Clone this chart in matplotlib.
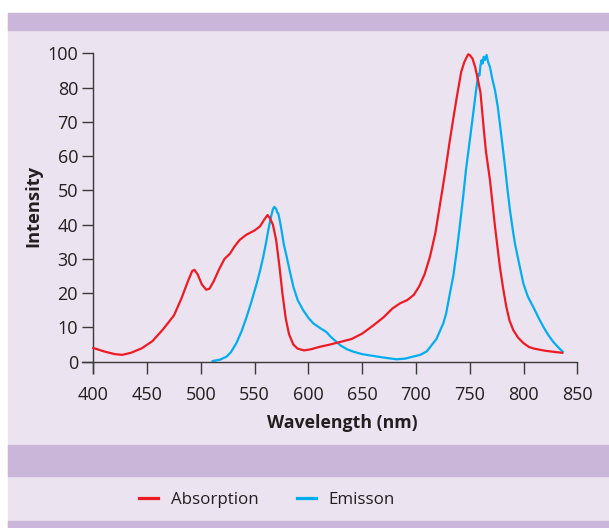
import matplotlib
matplotlib.use("Agg")
import matplotlib.pyplot as plt
from matplotlib.patches import Rectangle
from matplotlib.lines import Line2D

plt.rcParams['font.family'] = ['Open Sans', 'DejaVu Sans']

# %% Data (axis units; top tick "100" sits at 90)
abs_wl = [400, 410, 420, 427, 435, 445, 455, 465, 475, 482, 488, 492, 494, 497,
          501, 505, 508, 512, 517, 522, 527, 531, 536, 542, 550, 555, 559, 562,
          564, 567, 570, 573, 576, 579, 582, 586, 590, 596, 602, 610, 620, 630,
          640, 650, 660, 670, 678, 685, 692, 698, 703, 708, 713, 718, 722, 727,
          731.5, 735, 738, 742, 745, 748.5, 750, 752.5, 755, 757.5, 760, 763,
          765, 768.8, 773.5, 778, 781, 784, 787, 790.5, 795, 800, 805, 810, 820,
          830, 836]
abs_val = [4.0, 3.0, 2.2, 2.0, 2.6, 3.9, 6.0, 9.5, 13.5, 18.5, 23.5, 26.5, 26.8,
           25.5, 22.5, 21.0, 21.3, 23.5, 27.0, 30.0, 31.5, 33.5, 35.5, 37.0,
           38.3, 39.5, 41.5, 42.8, 42.0, 40.0, 35.5, 28.0, 19.5, 12.5, 8.0, 5.0,
           3.8, 3.3, 3.6, 4.3, 5.0, 5.8, 6.6, 8.2, 10.5, 13.0, 15.5, 17.0, 18.0,
           19.5, 22.0, 25.5, 30.6, 37.5, 45.2, 55.0, 64.6, 71.5, 77.3, 84.5,
           87.5, 89.7, 89.5, 88.5, 86.0, 82.5, 78.5, 68.0, 61.5, 53.0, 39.4,
           27.7, 21.5, 16.0, 12.0, 9.2, 7.0, 5.4, 4.3, 3.8, 3.2, 2.8, 2.6]

em_wl = [511, 518, 524, 528, 533, 538, 542.6, 547, 552, 555, 558, 560.5, 562.7,
         565, 567, 568.3, 570, 571, 572, 573.5, 575, 577, 579.8, 583, 586, 590,
         595, 600, 604.5, 610, 614, 617, 620, 626, 630, 636, 642, 650, 660, 670,
         682, 690, 697.5, 704, 710, 716, 719, 725.4, 728, 731.6, 734.7, 738,
         741, 744, 746.5, 750, 753.2, 756, 758, 759, 760, 761, 762, 763, 764,
         765.7, 767, 768.8, 771, 773.5, 776, 778, 780.5, 782.8, 785, 787.4, 790,
         792, 796, 799.8, 804, 809, 814, 818.4, 823, 827.6, 832, 836.4]
em_val = [0.2, 0.6, 1.5, 2.8, 5.4, 9.0, 13.1, 17.5, 22.9, 26.5, 30.6, 34.5,
          38.4, 42.0, 44.5, 45.2, 44.6, 43.5, 43.3, 41.0, 38.4, 34.5, 30.6,
          26.0, 21.9, 18.0, 15.1, 12.8, 11.2, 10.0, 9.2, 8.6, 7.5, 5.8, 4.7,
          3.6, 2.9, 2.2, 1.7, 1.2, 0.7, 0.9, 1.5, 2.0, 3.0, 5.4, 6.6, 11.2,
          14.0, 20.0, 25.0, 32.5, 40.3, 48.5, 56.0, 64.5, 72.4, 79.5, 84.0,
          83.5, 86.5, 88.0, 87.0, 89.0, 88.0, 89.5, 87.5, 86.0, 82.5, 79.2,
          74.5, 69.5, 63.0, 56.9, 50.5, 44.2, 38.5, 34.5, 28.5, 22.9, 19.0,
          16.0, 12.8, 10.2, 7.8, 5.8, 4.3, 2.9]

xticks = [400, 450, 500, 550, 600, 650, 700, 750, 800, 850]
yticks = [0, 10, 20, 30, 40, 50, 60, 70, 80, 90]
ytick_labels = ["0", "10", "20", "30", "40", "50", "60", "70", "80", "100"]

RED = "#ed1c24"
BLUE = "#00aeef"
INK = "#231f20"
LAV = "#ebe3f0"
PURPLE = "#cab6d8"

W, H = 609, 528
fig = plt.figure(figsize=(W / 100, H / 100), dpi=100, facecolor="white")


def band(y0, y1, color):
    # rectangles in pixel rows, from top
    fig.patches.append(Rectangle((8 / W, 1 - y1 / H), 1 - 8 / W, (y1 - y0) / H,
                                 transform=fig.transFigure, color=color,
                                 zorder=-5))


band(13, 528, LAV)
band(13, 30, PURPLE)
band(445, 476, PURPLE)
band(521, 528, PURPLE)

ax = fig.add_axes([82 / W, 1 - 373 / H, (577.3 - 82) / W, (373 - 53.3) / H])
ax.patch.set_alpha(0)
ax.plot(abs_wl, abs_val, color=RED, lw=1.6, zorder=3)
ax.plot(em_wl, em_val, color=BLUE, lw=1.6, zorder=2)

ax.set_xlim(389.5, 850)
ax.set_ylim(-3.3, 90)
ax.spines[['top', 'right']].set_visible(False)
ax.spines['left'].set_position(('data', 400))
ax.spines['bottom'].set_position(('data', 0))
for s in ('left', 'bottom'):
    ax.spines[s].set_color("#3a3a3a")
    ax.spines[s].set_linewidth(1.0)

ax.set_xticks(xticks)
ax.set_yticks(yticks)
ax.set_yticklabels(ytick_labels)
ax.tick_params(axis='x', direction='out', length=8.5, width=1.0, pad=9,
               color="#3a3a3a", labelsize=13, labelcolor=INK)
ax.tick_params(axis='y', direction='out', length=8, width=1.0, pad=3,
               color="#3a3a3a", labelsize=13, labelcolor=INK)

fig.text(342 / W, 1 - 423 / H, "Wavelength (nm)", ha='center', va='center',
         fontsize=12.8, fontweight='bold', color=INK)
fig.text(33 / W, 1 - 206 / H, "Intensity", ha='center', va='center',
         rotation=90, fontsize=13.2, fontweight='bold', color=INK)

handles = [Line2D([], [], color=RED, lw=2.3), Line2D([], [], color=BLUE, lw=2.3)]
fig.legend(handles, ["Absorption", "Emisson"], loc='center',
           bbox_to_anchor=(267 / W, 1 - 500 / H), ncol=2, frameon=False,
           fontsize=12.2, handlelength=1.1, handletextpad=0.75,
           columnspacing=2.3, labelcolor=INK)

fig.savefig("out.png", dpi=100, facecolor="white")
